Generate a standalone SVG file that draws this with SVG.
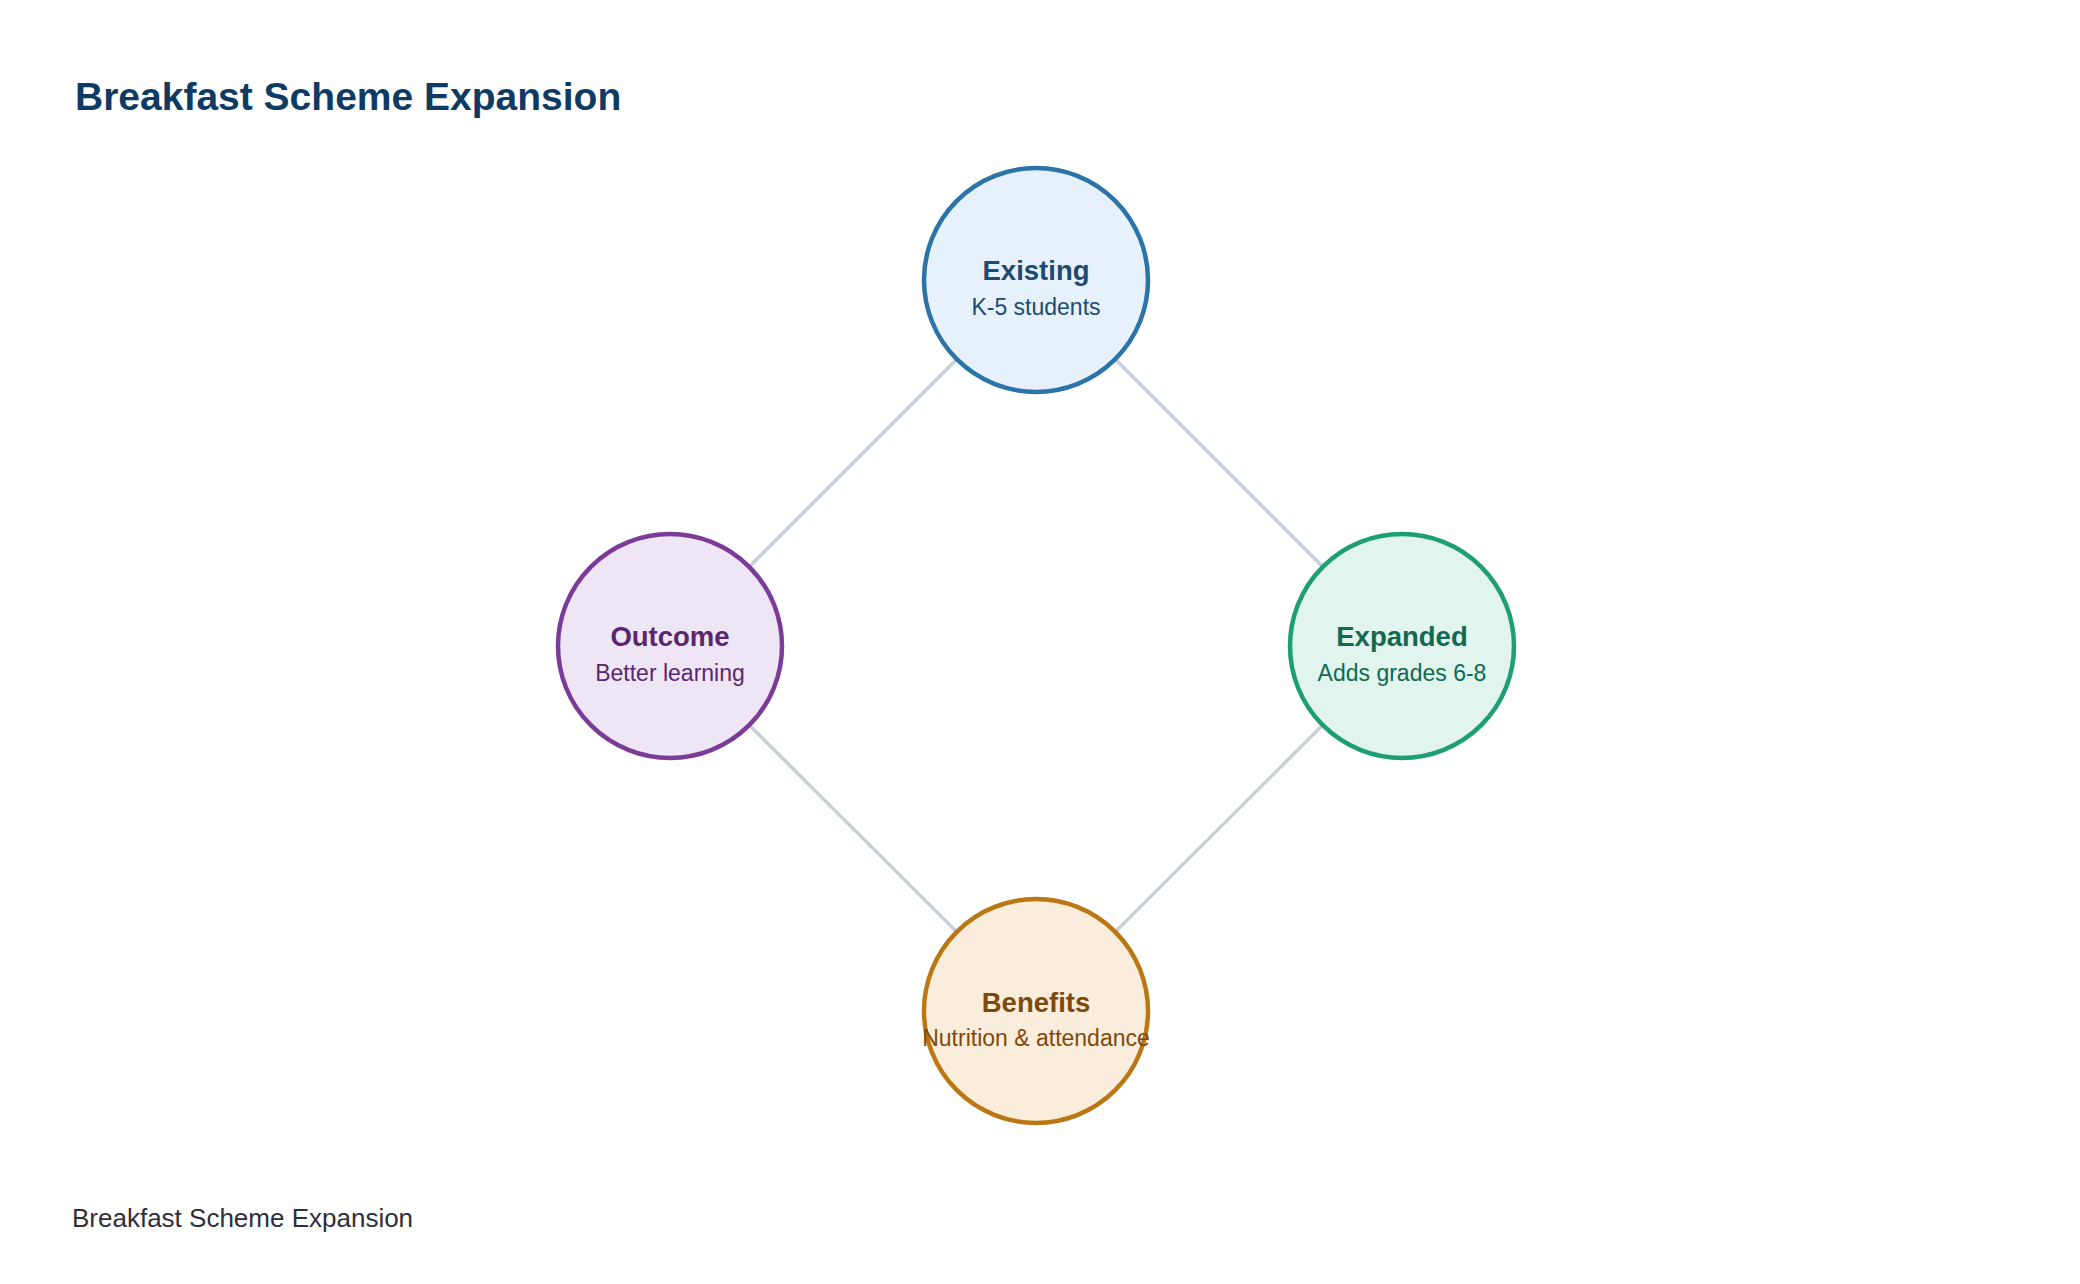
<svg xmlns="http://www.w3.org/2000/svg" width="2080" height="1284" viewBox="0 0 2080 1284">
<style>
text{font-family:"Liberation Sans",Arial,sans-serif;text-anchor:middle}
.h{font-size:27.5px;font-weight:bold}
.s{font-size:23px}
.node circle{stroke-width:4.5}
.edge{stroke:#c8d0db;stroke-width:3.5;fill:none}
</style>
<rect width="2080" height="1284" fill="#ffffff"/>
<text x="75" y="109.5" style="text-anchor:start;font-size:39px;font-weight:bold" fill="#0f3b63">Breakfast Scheme Expansion</text>
<g id="connectors">
<line class="edge" x1="1036" y1="280" x2="670" y2="646"/>
<line class="edge" x1="1036" y1="280" x2="1402" y2="646"/>
<line class="edge" x1="670" y1="646" x2="1036" y2="1011"/>
<line class="edge" x1="1402" y1="646" x2="1036" y2="1011"/>
</g>
<g id="existing" class="node">
<circle cx="1036" cy="280" r="112" fill="#e7f1fb" stroke="#2a74a7"/>
<text class="h" x="1036" y="280" fill="#1b4a72">Existing</text>
<text class="s" x="1036" y="315" fill="#1b4a72">K-5 students</text>
</g>
<g id="outcome" class="node">
<circle cx="670" cy="646" r="112" fill="#efe6f5" stroke="#7b3c99"/>
<text class="h" x="670" y="646" fill="#5a2670">Outcome</text>
<text class="s" x="670" y="681" fill="#5a2670">Better learning</text>
</g>
<g id="expanded" class="node">
<circle cx="1402" cy="646" r="112" fill="#e1f4ed" stroke="#1d9e73"/>
<text class="h" x="1402" y="646" fill="#0f6a4e">Expanded</text>
<text class="s" x="1402" y="681" fill="#0f6a4e">Adds grades 6-8</text>
</g>
<g id="benefits" class="node">
<circle cx="1036" cy="1011" r="112" fill="#fbeddb" stroke="#ba7714"/>
<text class="h" x="1036" y="1012" fill="#7d4a0c">Benefits</text>
<text class="s" x="1036" y="1046" fill="#7d4a0c">Nutrition &amp; attendance</text>
</g>
<text x="72" y="1227" style="text-anchor:start;font-size:26px" fill="#2e2e3c">Breakfast Scheme Expansion</text>
</svg>
